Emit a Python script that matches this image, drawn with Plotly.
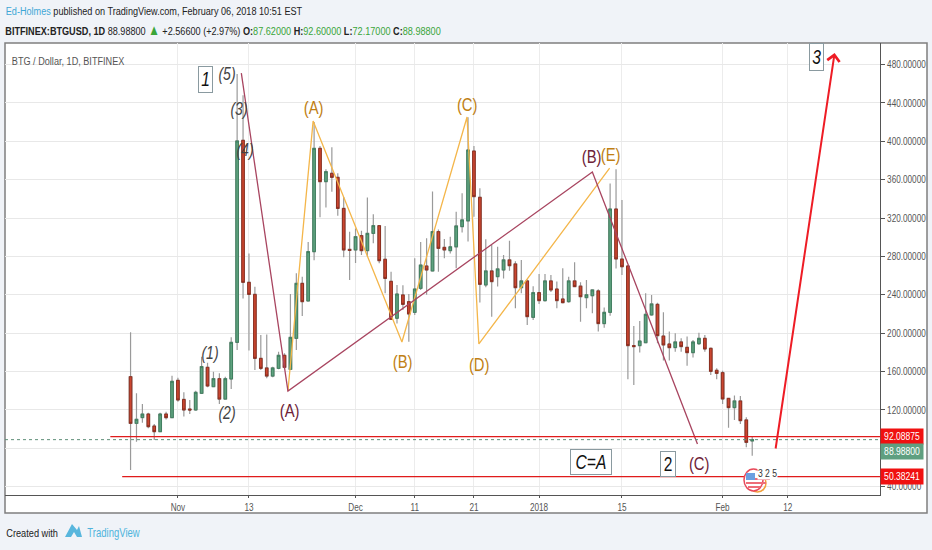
import pandas as pd
import plotly.graph_objects as go

W, H = 932, 550
L, R, T, B = 5, 880, 43, 495

dates = pd.date_range("2017-10-24", periods=106, freq="D")
opens = [154.6,106,112,115.7,103.2,97.3,115.7,111.9,150.8,130.9,120.9,119.9,137.3,164.4,144.2,152.5,131.3,152.2,190.4,401,253,240.4,173.7,163.7,155.3,163.3,176.9,162.3,194.6,251.9,233.5,284.9,392.6,357.9,366.6,362.4,330,287.3,286.7,301.6,286,304,312,277,254,215.5,239.8,232.8,221.7,246.7,270,264.8,305.8,289.4,286,290,311,317,389.8,341.6,250.2,264.8,258.9,265.8,276.3,272.1,247.4,254.4,216.5,242.2,233.9,254.4,246,235.6,232.8,254.4,249,237,239,244,210,221.7,329.4,277.2,270,187,187,190,219,230,197,188.7,185,190.8,185.2,179.7,189,194.6,184.2,161.3,158.8,132,122.4,129.3,109.5,87.62]
highs = [200.8,137.3,126.1,117,105.3,117,118,155.7,153.6,138.3,130.3,140,175.5,169.2,159.8,158.1,154.6,195.6,470,448,283,248.4,198,198.7,165,180.7,179,240.8,262.3,258.9,295,420,395,370.7,393.7,366.6,342,305.7,309,306.8,341.5,324,312,311.7,264,250.2,250,240.8,278,295,298.8,347.5,308,298,300.5,326.6,345.7,425,395,350.9,297.8,291.9,290.1,281.5,296.4,275,276.2,256,249,261.7,261.7,260.6,253.7,267.6,258.9,273.8,253,255.4,245,245.7,226.6,356,370.7,338.7,271,207.5,212.7,241.5,239.8,231.8,221.7,201.6,200,194.6,196.4,192.9,200.5,198,185,163.4,160.9,132,134.9,134.5,112.3,92.6]
lows = [57.4,86.9,106.7,100.8,88.6,97.3,110,111.9,128.6,113,115.7,119.2,136.6,143.5,143.5,126.1,131.3,141.8,182.4,236,182,161.6,161.6,152.9,154,162.3,162.3,161.6,182.4,217.9,233,276,320.7,331,347.4,322.4,279,255.4,273,281.4,280,293.6,272.8,241.5,213.7,210,224,191,219,245,240,265,264,278,283,267.6,305,295.4,321.4,232,247.8,217.2,248.5,257,265,225.9,241.5,208.5,213.7,230.4,232.8,243,225.9,231,231.8,248,212,225.9,220.7,201.6,205.7,218,267.5,260.5,152,146,179.7,189.4,218,189.4,171.4,171.4,180.7,180.7,166,174.5,187.7,180.7,156.4,151.9,126.2,101.5,109.5,105.3,81,72.17]
closes = [106,110.2,115.7,102.5,97.3,115.7,111.9,149.8,130.3,119.9,119.9,138.3,165.1,144.9,152.5,131.3,152.5,190.4,400.3,253,240.4,173.7,163.3,155.3,163.7,176.9,164.4,195.6,251.9,232.8,285,392.6,357.9,368.3,362.4,330,286.7,286.3,300.5,286,304,312,275.5,257,214.4,240.8,230,220,246,271,265.8,305.8,288.4,286.7,290,311.7,318,390.9,342.3,250.9,264.8,253.7,266.9,276.3,270.3,247.4,254.4,217.2,242.2,233.9,254.4,245,233.9,231.8,254.4,248.5,238,240,245,210,221.7,329.4,277.3,269.2,187,186,191.8,219.6,230.4,197.4,187.7,184.9,190.8,186,179.7,190.8,194.6,183.5,160.2,158.1,131.4,122.4,129.3,108.8,86.2,88.988]

maroon_dates = ["2017-11-11 17:00","2017-11-19 14:00","2018-01-10 00:00","2018-01-27 18:00"]
maroon_vals = [471,139.7,367.9,84.5]
orange_dates = ["2017-11-19 14:00","2017-11-23 20:00","2017-12-08 20:00","2017-12-19 20:00","2017-12-21 20:00","2018-01-12 22:00"]
orange_vals = [139.7,421,190.8,425.3,188.7,372]
arrow_from = ("2018-02-09 22:00",78.2)
arrow_to = ("2018-02-19 22:00",492)
level_high = 92.08875
level_low = 50.38241
last_price = 88.988
level_high_start = "2017-10-20 14:00"
level_low_start = "2017-10-22 14:00"
axis_start = "2017-10-02 19:00"
axis_end = "2018-02-27 14:00"
y_ticks = [40,80,120,160,200,240,280,320,360,400,440,480]
y_ticktext = ["40.00000","","120.00000","160.00000","200.00000","240.00000","280.00000","320.00000","360.00000","400.00000","440.00000","480.00000"]
x_ticks = ["2017-11-01","2017-11-13","2017-12-01","2017-12-11","2017-12-21","2018-01-01","2018-01-15","2018-02-01","2018-02-12"]
x_ticktext = ["Nov","13","Dec","11","21","2018","15","Feb","12"]

FONT = "Liberation Sans, Arial, sans-serif"
UP, DOWN = "#5fa27f", "#cb4630"
UP_EDGE, DOWN_EDGE = "#3f7f5f", "#8c2f20"
WICK = "#9a9a9a"
MAROON, ORANGE = "#a84560", "#f4b64a"
MAROON_T, ORANGE_T = "#6e2338", "#c07f14"
RED = "#e01b1b"

def px(x): return (x - L) / (R - L)
def py(y): return (B - y) / (B - T)

fig = go.Figure()
fig.add_trace(go.Candlestick(x=dates, open=opens, high=highs, low=lows, close=closes,
    increasing=dict(line=dict(color=WICK, width=1.2), fillcolor=WICK),
    decreasing=dict(line=dict(color=WICK, width=1.2), fillcolor=WICK),
    whiskerwidth=0, showlegend=False, hoverinfo="skip"))
fig.add_trace(go.Candlestick(x=dates, open=opens, close=closes,
    high=[max(a,b) for a,b in zip(opens,closes)], low=[min(a,b) for a,b in zip(opens,closes)],
    increasing=dict(line=dict(color=UP_EDGE, width=1), fillcolor=UP),
    decreasing=dict(line=dict(color=DOWN_EDGE, width=1), fillcolor=DOWN),
    whiskerwidth=0, showlegend=False, hoverinfo="skip"))
def line(xs, ys, color, width, dash="solid"):
    fig.add_trace(go.Scatter(x=xs, y=ys, mode="lines", line=dict(color=color, width=width, dash=dash),
                             showlegend=False, hoverinfo="skip"))
line(orange_dates, orange_vals, ORANGE, 1.3)
line(maroon_dates, maroon_vals, MAROON, 1.3)
line([axis_start, axis_end], [last_price]*2, "#5f8f78", 1, "dot")
line([level_high_start, axis_end], [level_high]*2, RED, 1.2)
line([level_low_start, axis_end], [level_low]*2, RED, 1.2)

ann = []
def text(x, y, s, size=17, color="#333", **kw):
    ann.append(dict(xref="paper", yref="paper", x=px(x), y=py(y), text=s, showarrow=False,
                    xanchor="center", yanchor="middle",
                    font=dict(size=size, color=color, family=FONT), **kw))

text(153.5, 11, '<span style="color:#3fa7d6">Ed-Holmes</span> published on TradingView.com, February 06, 2018 10:51 EST',
     size=11.7, color="#222")
G = '<span style="color:#3aa53a">%s</span>'
text(223.5, 29, "<b>BITFINEX:BTGUSD, 1D</b> 88.98800 " + '<span style="color:#3aa53a;font-size:15px">▲</span>' + " +2.56600 (+2.97%) <b>O:</b>" + G % "87.62000" +
     " <b>H:</b>" + G % "92.60000" + " <b>L:</b>" + G % "72.17000" + " <b>C:</b>" + G % "88.98800",
     size=11.7, color="#222")
text(67.5, 60, "BTG / Dollar, 1D, BITFINEX", size=11.7, color="#555")
text(31.5, 533, "Created with", size=11.8, color="#222")
text(113, 533, "TradingView", size=12.2, color="#4fb3dc")

for x, y, s in [(227,74,"(5)"),(239,109,"(3)"),(245,150,"(4)"),(210,353,"(1)"),(227,413,"(2)")]:
    text(x, y, f"<i>{s}</i>", size=18, color="#444")
for x, y, s in [(289,411,"(A)"),(591,157,"(B)"),(699,463,"(C)")]:
    text(x, y, s, size=19, color=MAROON_T)
for x, y, s in [(313,107,"(A)"),(402,361,"(B)"),(467,104,"(C)"),(479,364,"(D)"),(610,154,"(E)")]:
    text(x, y, s, size=19, color=ORANGE_T)
for x, y, s, w, h in [(205.5,79,"<i>1</i>",15,27),(668,464,"2",16,26),(816,57,"<i>3</i>",15,28),(591,462,"<i>C=A</i>",42,26)]:
    text(x, y, s, size=20, color="#111", bgcolor="white", bordercolor="#8a9aa0", borderwidth=1,
         width=w-2, height=h-2, borderpad=0, align="center", valign="middle")
text(767, 473, "3 2 5", size=11, color="#333", bgcolor="white", width=19, height=11, borderpad=0)

for val, col, s, shift in [(level_high, "#f01010", "92.08875", 0), (last_price, "#5f9f80", "88.98800", -12), (level_low, "#f01010", "50.38241", 0)]:
    ann.append(dict(xref="paper", yref="y", x=1.0, y=val, xanchor="left", yanchor="middle", showarrow=False,
                    text=s, font=dict(size=11, color="white", family=FONT), bgcolor=col, yshift=shift,
                    width=42, height=15, borderpad=0, align="center"))

ann.append(dict(x=arrow_to[0], y=arrow_to[1], ax=arrow_from[0], ay=arrow_from[1], xref="x", yref="y",
                axref="x", ayref="y", text="", showarrow=True, arrowhead=4, arrowsize=1.2, arrowwidth=2, arrowcolor="#ee1c25"))

def rect(x0, y0, x1, y1, **kw):
    return dict(type="rect", xref="paper", yref="paper", x0=px(x0), x1=px(x1), y0=py(y0), y1=py(y1), **kw)
def circ(x0, y0, x1, y1, **kw):
    return dict(type="circle", xref="paper", yref="paper", x0=px(x0), x1=px(x1), y0=py(y0), y1=py(y1), **kw)
def path(points, **kw):
    d = "M" + " L".join(f"{px(a):.5f},{py(b):.5f}" for a, b in points) + " Z"
    return dict(type="path", xref="paper", yref="paper", path=d, **kw)

shapes = [
    rect(5, 43, 927, 513, fillcolor="white", line=dict(color="#7f7f7f", width=1.5), layer="below"),
    circ(749, 474, 766, 492, line=dict(color="#f2a13c", width=1.5), fillcolor="rgba(0,0,0,0)"),
    circ(744, 469, 763, 491, line=dict(color="#e8495a", width=1.5), fillcolor="white"),
    rect(746, 478, 770, 480, fillcolor="#ee6d78", line=dict(width=0)),
    rect(746, 482, 766, 484, fillcolor="#ee6d78", line=dict(width=0)),
    rect(748, 486, 760, 488, fillcolor="#ee6d78", line=dict(width=0)),
    rect(746, 473, 755, 480, fillcolor="#6c9fe0", line=dict(width=0)),
    path([(65,537),(72,524),(77,530),(79,526),(82,537),(77,537),(74,532),(71,537)], fillcolor="#58b6dd", line=dict(width=0)),
]

axis_font = dict(size=10.5, color="#555", family=FONT)
fig.update_layout(
    width=W, height=H, margin=dict(l=L, r=W-R, t=T, b=H-B, autoexpand=False),
    paper_bgcolor="#f0f3f8", plot_bgcolor="white", boxgap=0.38, boxmode="overlay",
    hovermode=False, showlegend=False, annotations=ann, shapes=shapes,
    xaxis=dict(type="date", range=[axis_start, axis_end], rangeslider=dict(visible=False),
               tickvals=x_ticks, ticktext=x_ticktext, tickangle=0, tickfont=axis_font,
               ticks="outside", ticklen=2, tickcolor="#555", showgrid=True, gridcolor="#ececec", gridwidth=1,
               showline=True, linecolor="#555", linewidth=1, zeroline=False),
    yaxis=dict(side="right", range=[31.3, 502.4], tickvals=y_ticks, ticktext=y_ticktext, tickfont=axis_font,
               ticks="outside", ticklen=4, tickcolor="#555", showgrid=True, gridcolor="#e8e8e8", gridwidth=1.3,
               showline=True, linecolor="#555", linewidth=1, zeroline=False),
)
squeeze = """
document.body.style.margin='0';
document.querySelectorAll('.plotly-graph-div svg text').forEach(function(t){
  if (!t.textContent) return;
  t.removeAttribute('clip-path');
  t.style.clipPath = 'none';
  var x = parseFloat(t.getAttribute('x')) || 0;
  var old = t.getAttribute('transform') || '';
  t.setAttribute('transform', old + ' translate(' + x + ',0) scale(0.78,1) translate(' + (-x) + ',0)');
});
"""
fig.write_html("out.html", post_script=squeeze, config=dict(displayModeBar=False))
